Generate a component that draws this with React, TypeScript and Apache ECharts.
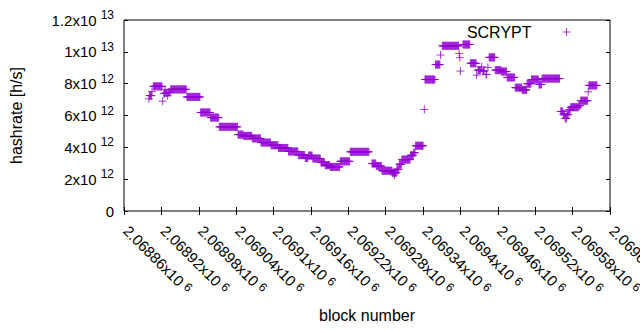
import React, { useEffect, useRef } from "react";
import * as echarts from "echarts";

// Runs of consecutive blocks sharing the same estimated hashrate
const blockStart = [
  2068900, 2068901, 2068905, 2068907, 2068922, 2068924, 2068926, 2068927, 2068930, 2068931,
  2068935, 2068961, 2068983, 2068999, 2069013, 2069043, 2069052, 2069066, 2069080, 2069096,
  2069108, 2069124, 2069140, 2069151, 2069156, 2069163, 2069176, 2069183, 2069191, 2069207,
  2069223, 2069258, 2069265, 2069274, 2069291, 2069294, 2069298, 2069302, 2069306, 2069320,
  2069325, 2069328, 2069342, 2069343, 2069360, 2069368, 2069371, 2069398, 2069399, 2069400,
  2069404, 2069416, 2069426, 2069428, 2069434, 2069436, 2069441, 2069444, 2069446, 2069456,
  2069466, 2069475, 2069488, 2069499, 2069507, 2069514, 2069526, 2069531, 2069561, 2069565,
  2069568, 2069571, 2069574, 2069577, 2069590, 2069593, 2069605, 2069606,
];
const blockEnd = [
  2068900, 2068904, 2068905, 2068921, 2068922, 2068925, 2068926, 2068929, 2068930, 2068934,
  2068960, 2068982, 2068998, 2069012, 2069042, 2069051, 2069065, 2069079, 2069095, 2069107,
  2069123, 2069139, 2069150, 2069155, 2069162, 2069175, 2069182, 2069190, 2069206, 2069222,
  2069253, 2069264, 2069273, 2069290, 2069297, 2069294, 2069301, 2069305, 2069319, 2069324,
  2069327, 2069340, 2069342, 2069359, 2069367, 2069368, 2069397, 2069398, 2069399, 2069400,
  2069415, 2069425, 2069426, 2069432, 2069434, 2069438, 2069442, 2069444, 2069455, 2069465,
  2069474, 2069487, 2069498, 2069506, 2069513, 2069525, 2069530, 2069559, 2069564, 2069567,
  2069570, 2069573, 2069576, 2069589, 2069592, 2069604, 2069605, 2069619,
];
// hashrate in units of 10^12 h/s
const hashrateE12 = [
  7.05, 7.25, 7.5, 7.83, 6.9, 7.38, 7.62, 7.42, 7.25, 7.45,
  7.64, 7.17, 6.19, 5.87, 5.29, 4.8, 4.72, 4.56, 4.3, 4.13,
  3.96, 3.74, 3.51, 3.33, 3.48, 3.3, 3.05, 2.88, 2.77, 3.12,
  3.72, 2.98, 2.83, 2.53, 2.4, 2.25, 2.62, 2.94, 3.23, 3.5,
  3.66, 4.1, 6.38, 8.26, 9.2, 9.8, 10.38, 9.9, 9.63, 8.79,
  10.46, 9.28, 8.54, 8.85, 9.06, 8.79, 8.58, 9.02, 9.65, 8.85,
  8.76, 8.39, 7.75, 7.61, 8.0, 8.26, 7.95, 8.32, 6.25, 6.1,
  5.82, 6.05, 6.35, 6.52, 6.62, 6.93, 7.49, 7.89,
];

const seriesName = "SCRYPT";
const xMin = 2068860;
const xMax = 2069640;
const xStep = 60;
const yMax = 1.2e13;
const yStep = 2e12;

const FONT = "'Liberation Sans', Arial, sans-serif";
const FS = 15;
const COLOR = "#9400d3";
const PLUS = "path://M0,4H8M4,0V8";

function buildPoints(): number[][] {
  const pts: number[][] = [];
  for (let i = 0; i < blockStart.length; i++) {
    for (let b = blockStart[i]; b <= blockEnd[i]; b++) {
      pts.push([b, hashrateE12[i] * 1e12]);
    }
  }
  return pts;
}

const yRich = {
  a: { fontSize: FS, fontFamily: FONT, color: "#000" },
  s: { fontSize: 12, fontFamily: FONT, color: "#000", padding: [0, 0, 10, 4] },
};
const xRich = {
  a: { fontSize: FS, fontFamily: FONT, color: "#000", padding: [0, 0, 0, 3] },
  s: { fontSize: 12, fontFamily: FONT, color: "#000", padding: [0, 0, 4, 4] },
};

export default function App() {
  const ref = useRef<HTMLDivElement>(null);
  useEffect(() => {
    if (!ref.current) return;
    const chart = echarts.init(ref.current, undefined, { renderer: "svg" });
    const grid = { left: 124, right: 30, top: 20, bottom: 119 };
    const xCommon = {
      type: "value" as const,
      min: xMin,
      max: xMax,
      interval: xStep,
      splitLine: { show: false },
      axisLine: { show: false },
      axisTick: { show: true, inside: true, length: 4, lineStyle: { color: "#000" } },
    };
    const yCommon = {
      type: "value" as const,
      min: 0,
      max: yMax,
      interval: yStep,
      splitLine: { show: false },
      axisLine: { show: false },
      axisTick: { show: true, inside: true, length: 4, lineStyle: { color: "#000" } },
    };
    chart.setOption({
      animation: false,
      grid: {
        ...grid,
        show: true,
        borderColor: "#000",
        borderWidth: 1,
        backgroundColor: "transparent",
        containLabel: false,
        outerBoundsMode: "none",
      },
      legend: {
        data: [{ name: seriesName, icon: PLUS }],
        right: 64,
        top: 19,
        align: "right",
        itemWidth: 8,
        itemHeight: 8,
        textStyle: { fontSize: 16, fontFamily: FONT, color: "#000", padding: [0, 26, 0, 0] },
        itemStyle: { color: "transparent", borderColor: COLOR, borderWidth: 1 },
      },
      xAxis: [
        {
          ...xCommon,
          position: "bottom",
          name: "block number",
          nameLocation: "middle",
          nameGap: 96,
          nameTextStyle: { fontSize: 16, fontFamily: FONT, color: "#000", verticalAlign: "top" },
          axisLabel: {
            show: true,
            rotate: -45,
            margin: 15,
            formatter: (v: number) => `{a|${+(v / 1e6).toFixed(5)}x10}{s|6}`,
            rich: xRich,
          },
        },
        { ...xCommon, position: "top", axisLabel: { show: false } },
      ],
      yAxis: [
        {
          ...yCommon,
          position: "left",
          name: "hashrate [h/s]",
          nameLocation: "middle",
          nameGap: 100,
          nameTextStyle: { fontSize: 16, fontFamily: FONT, color: "#000" },
          axisLabel: {
            show: true,
            margin: 10,
            formatter: (v: number) => {
              if (v === 0) return "{a|0}";
              const e = Math.floor(Math.log10(v) + 1e-9);
              const m = +(v / Math.pow(10, e)).toFixed(2);
              return `{a|${m}x10}{s|${e}}`;
            },
            rich: yRich,
          },
        },
        { ...yCommon, position: "right", axisLabel: { show: false } },
      ],
      series: [
        {
          name: seriesName,
          type: "scatter",
          xAxisIndex: 0,
          yAxisIndex: 0,
          symbol: PLUS,
          symbolSize: 8,
          itemStyle: { color: "transparent", borderColor: COLOR, borderWidth: 1 },
          data: buildPoints(),
        },
      ],
    });
    return () => chart.dispose();
  }, []);
  return (
    <div
      ref={ref}
      style={{ position: "absolute", left: 0, top: 0, width: 640, height: 330, background: "#fff" }}
    />
  );
}
